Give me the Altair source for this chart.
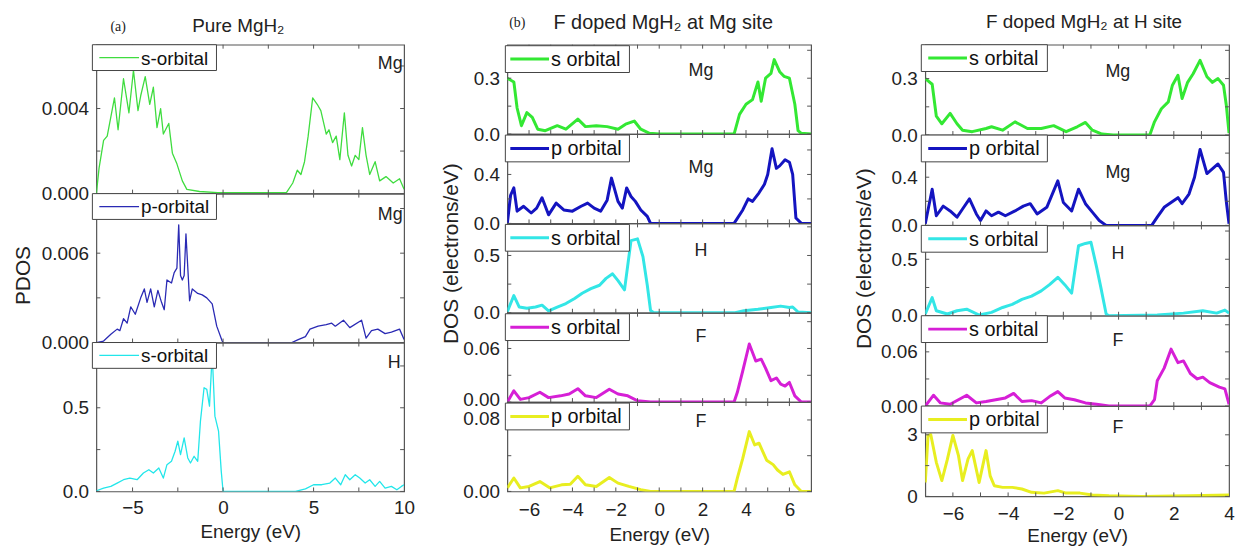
import altair as alt
import pandas as pd

FONT = "Liberation Sans"
SERIF = "Liberation Serif"

# ---------------- data: (Energy eV, DOS) ----------------
# Column (a): Pure MgH2
PURE_MG_S = [(-7, 0), (-6.85, 0.0012), (-6.6, 0.0025), (-6.4, 0.0027), (-6.0, 0.0045), (-5.8, 0.003),
             (-5.5, 0.0054), (-5.2, 0.0038), (-4.95, 0.0058), (-4.7, 0.0039), (-4.55, 0.0046),
             (-4.3, 0.0055), (-4.05, 0.0042), (-3.85, 0.005), (-3.65, 0.0031), (-3.45, 0.004),
             (-3.3, 0.0028), (-3.0, 0.0033), (-2.8, 0.0019), (-2.55, 0.0014), (-2.25, 0.0006),
             (-2.0, 0.0002), (-1.3, 0.0001), (-0.3, 0.00005), (3.5, 0.00005), (3.85, 0.0005),
             (4.1, 0.0011), (4.3, 0.0009), (4.5, 0.0015), (4.7, 0.0027), (4.95, 0.0045),
             (5.2, 0.0042), (5.4, 0.0039), (5.7, 0.0028), (5.85, 0.003), (6.05, 0.0024),
             (6.25, 0.0027), (6.45, 0.0016), (6.7, 0.0038), (6.9, 0.0018), (7.1, 0.0013),
             (7.3, 0.0018), (7.5, 0.0016), (7.7, 0.0031), (7.9, 0.0018), (8.1, 0.0009),
             (8.4, 0.0015), (8.65, 0.0006), (9.0, 0.0008), (9.4, 0.0005), (9.75, 0.0007), (10, 0.0002)]
PURE_MG_P = [(-7, 0), (-6.6, 0.0001), (-6.2, 0.00055), (-5.85, 0.0009), (-5.7, 0.0008), (-5.5, 0.0016),
             (-5.3, 0.0013), (-5.1, 0.0024), (-4.85, 0.0019), (-4.55, 0.003), (-4.35, 0.0036),
             (-4.2, 0.0027), (-4.0, 0.0036), (-3.8, 0.0024), (-3.6, 0.0035), (-3.4, 0.0027),
             (-3.25, 0.0022), (-3.1, 0.0042), (-2.85, 0.004), (-2.7, 0.0047), (-2.55, 0.005),
             (-2.45, 0.0079), (-2.35, 0.0045), (-2.25, 0.0042), (-2.15, 0.0045), (-2.05, 0.0073),
             (-1.85, 0.0028), (-1.7, 0.0036), (-1.4, 0.0033), (-1.15, 0.0032), (-0.9, 0.003),
             (-0.6, 0.0026), (-0.35, 0.0011), (-0.05, 0.0001), (0, 0), (3.8, 0), (4.15, 0.0002),
             (4.55, 0.0004), (4.8, 0.0009), (5.25, 0.0011), (5.7, 0.0012), (6.0, 0.0013),
             (6.2, 0.0011), (6.65, 0.0015), (7.0, 0.001), (7.65, 0.0015), (7.9, 0.0003),
             (8.2, 0.0008), (8.55, 0.0009), (8.95, 0.0006), (9.3, 0.0007), (9.75, 0.0009), (10, 0.0002)]
PURE_H_S = [(-7, 0.004), (-6.6, 0.02), (-6.2, 0.03), (-5.85, 0.05), (-5.5, 0.07), (-5.15, 0.08),
            (-4.75, 0.07), (-4.4, 0.11), (-4.1, 0.13), (-3.85, 0.11), (-3.55, 0.14), (-3.3, 0.08),
            (-3.1, 0.16), (-2.85, 0.18), (-2.65, 0.24), (-2.5, 0.3), (-2.35, 0.22), (-2.15, 0.32),
            (-1.95, 0.2), (-1.8, 0.17), (-1.6, 0.21), (-1.4, 0.18), (-1.25, 0.42), (-1.05, 0.62),
            (-0.9, 0.61), (-0.75, 0.51), (-0.6, 0.82), (-0.45, 0.45), (-0.25, 0.36), (-0.1, 0.12),
            (0, 0), (4.0, 0), (4.55, 0.015), (5.0, 0.04), (5.45, 0.04), (5.9, 0.05), (6.2, 0.08),
            (6.5, 0.04), (6.75, 0.1), (7.0, 0.07), (7.3, 0.1), (7.55, 0.08), (7.85, 0.05),
            (8.1, 0.07), (8.4, 0.03), (8.65, 0.06), (8.95, 0.02), (9.3, 0.03), (9.6, 0.01),
            (9.85, 0.03), (10, 0.04)]

# Column (b): F doped MgH2 at Mg site
MGS_MG_S = [(-7, 0.3), (-6.7, 0.28), (-6.55, 0.14), (-6.35, 0.045), (-6.1, 0.115), (-5.85, 0.09),
            (-5.6, 0.026), (-5.25, 0.018), (-4.7, 0.045), (-4.3, 0.026), (-3.75, 0.08), (-3.4, 0.04),
            (-2.9, 0.045), (-2.4, 0.04), (-1.9, 0.026), (-1.55, 0.053), (-1.15, 0.07), (-0.85, 0.026),
            (-0.45, 0.004), (0, 0), (3.45, 0), (3.7, 0.106), (4.0, 0.16), (4.3, 0.185), (4.55, 0.28),
            (4.7, 0.176), (4.9, 0.3), (5.15, 0.326), (5.3, 0.4), (5.55, 0.335), (5.75, 0.31),
            (6.0, 0.3), (6.25, 0.16), (6.4, 0.018), (6.55, 0.004), (7, 0)]
MGS_MG_P = [(-7, 0), (-6.85, 0.23), (-6.7, 0.29), (-6.55, 0.1), (-6.25, 0.14), (-5.9, 0.085),
            (-5.65, 0.125), (-5.4, 0.21), (-5.1, 0.07), (-4.75, 0.166), (-4.4, 0.11), (-4.0, 0.1),
            (-3.6, 0.14), (-3.3, 0.166), (-3.0, 0.125), (-2.7, 0.1), (-2.4, 0.19), (-2.2, 0.37),
            (-1.9, 0.18), (-1.7, 0.125), (-1.5, 0.29), (-1.3, 0.22), (-1.1, 0.18), (-0.85, 0.11),
            (-0.55, 0.057), (-0.4, 0), (3.45, 0), (3.85, 0.11), (4.1, 0.2), (4.3, 0.18), (4.6, 0.25),
            (4.85, 0.32), (5.0, 0.4), (5.2, 0.61), (5.4, 0.45), (5.55, 0.47), (5.8, 0.52),
            (6.0, 0.5), (6.15, 0.4), (6.3, 0.044), (6.55, 0), (7, 0)]
MGS_H_S = [(-7, 0.01), (-6.7, 0.15), (-6.45, 0.05), (-6.1, 0.04), (-5.7, 0.05), (-5.4, 0.066),
           (-5.1, 0.017), (-4.7, 0.05), (-4.3, 0.08), (-3.9, 0.125), (-3.55, 0.17), (-3.15, 0.21),
           (-2.75, 0.24), (-2.45, 0.3), (-2.15, 0.34), (-1.9, 0.28), (-1.6, 0.2), (-1.3, 0.63),
           (-1.0, 0.645), (-0.75, 0.49), (-0.55, 0.24), (-0.4, 0.02), (-0.25, 0), (3.5, 0),
           (3.9, 0.017), (4.55, 0.03), (5.15, 0.046), (5.6, 0.058), (6.0, 0.046), (6.15, 0.05),
           (6.4, 0.006), (7, 0)]
MGS_F_S = [(-7, 0), (-6.7, 0.0126), (-6.4, 0.003), (-6.0, 0.005), (-5.5, 0.011), (-5.1, 0.005),
           (-4.55, 0.007), (-4.15, 0.009), (-3.75, 0.015), (-3.4, 0.007), (-2.9, 0.005),
           (-2.3, 0.0144), (-1.9, 0.009), (-1.45, 0.007), (-1.0, 0.0015), (-0.4, 0), (3.45, 0),
           (3.6, 0.011), (3.85, 0.035), (4.15, 0.065), (4.45, 0.046), (4.7, 0.048), (4.9, 0.038),
           (5.15, 0.024), (5.4, 0.027), (5.6, 0.02), (5.8, 0.018), (6.0, 0.022), (6.25, 0.007),
           (6.55, 0), (7, 0)]
MGS_F_P = [(-7, 0.004), (-6.7, 0.015), (-6.4, 0.004), (-6.0, 0.0056), (-5.5, 0.011), (-5.05, 0.004),
           (-4.5, 0.0074), (-4.1, 0.008), (-3.75, 0.017), (-3.4, 0.0074), (-2.9, 0.0056),
           (-2.3, 0.0156), (-1.9, 0.0093), (-1.4, 0.0056), (-0.85, 0.002), (-0.4, 0), (3.45, 0),
           (3.6, 0.015), (3.85, 0.037), (4.15, 0.067), (4.4, 0.052), (4.6, 0.054), (4.95, 0.035),
           (5.25, 0.03), (5.45, 0.024), (5.7, 0.019), (6.0, 0.022), (6.25, 0.0074), (6.55, 0), (7, 0)]

# Column (c): F doped MgH2 at H site
HS_MG_S = [(-7, 0.3), (-6.75, 0.27), (-6.6, 0.1), (-6.4, 0.06), (-6.1, 0.115), (-5.85, 0.06),
           (-5.65, 0.026), (-5.3, 0.018), (-4.8, 0.035), (-4.6, 0.044), (-4.2, 0.026), (-3.75, 0.07),
           (-3.3, 0.035), (-2.8, 0.035), (-2.35, 0.05), (-1.9, 0.018), (-1.5, 0.044), (-1.2, 0.067),
           (-0.95, 0.026), (-0.6, 0.005), (-0.2, 0), (1.13, 0), (1.3, 0.07), (1.55, 0.14),
           (1.8, 0.176), (1.95, 0.265), (2.15, 0.318), (2.3, 0.194), (2.5, 0.28), (2.7, 0.326),
           (2.95, 0.397), (3.2, 0.31), (3.4, 0.28), (3.6, 0.3), (3.8, 0.265), (3.9, 0.16), (4.0, 0.01)]
HS_MG_P = [(-7, 0.014), (-6.75, 0.3), (-6.6, 0.08), (-6.35, 0.16), (-6.1, 0.12), (-5.85, 0.068),
           (-5.65, 0.136), (-5.4, 0.22), (-5.15, 0.095), (-5.0, 0.04), (-4.8, 0.12), (-4.6, 0.08),
           (-4.35, 0.11), (-4.1, 0.08), (-3.75, 0.12), (-3.45, 0.16), (-3.2, 0.18), (-2.95, 0.095),
           (-2.6, 0.15), (-2.2, 0.37), (-2.0, 0.19), (-1.7, 0.12), (-1.45, 0.3), (-1.2, 0.18),
           (-0.95, 0.11), (-0.7, 0.04), (-0.45, 0), (1.2, 0), (1.4, 0.068), (1.65, 0.15),
           (1.9, 0.19), (2.15, 0.23), (2.3, 0.18), (2.55, 0.26), (2.75, 0.4), (2.95, 0.63),
           (3.2, 0.43), (3.6, 0.51), (3.8, 0.44), (3.9, 0.2), (4.0, 0.014)]
HS_H_S = [(-7, 0.015), (-6.75, 0.16), (-6.6, 0.044), (-6.2, 0.015), (-5.85, 0.044), (-5.5, 0.058),
          (-5.05, 0.006), (-4.6, 0.03), (-4.2, 0.073), (-3.85, 0.1), (-3.5, 0.145), (-3.15, 0.174),
          (-2.8, 0.22), (-2.5, 0.275), (-2.2, 0.34), (-1.95, 0.275), (-1.7, 0.2), (-1.45, 0.62),
          (-1.2, 0.64), (-1.0, 0.65), (-0.8, 0.435), (-0.65, 0.26), (-0.45, 0.015), (-0.35, 0),
          (1.4, 0.006), (2.35, 0.023), (3.05, 0.044), (3.55, 0.023), (3.85, 0.05), (4.0, 0.023)]
HS_F_S = [(-7, 0), (-6.7, 0.012), (-6.45, 0.0035), (-6.1, 0.002), (-5.8, 0.007), (-5.5, 0.012),
          (-5.15, 0.0035), (-4.8, 0.005), (-4.45, 0.007), (-4.1, 0.009), (-3.8, 0.014), (-3.5, 0.005),
          (-3.15, 0.006), (-2.8, 0.0035), (-2.5, 0.0105), (-2.2, 0.016), (-1.95, 0.009), (-1.6, 0.007),
          (-1.2, 0.0035), (-0.8, 0.002), (-0.35, 0), (1.13, 0), (1.3, 0.007), (1.4, 0.028),
          (1.65, 0.042), (1.9, 0.063), (2.15, 0.048), (2.35, 0.05), (2.6, 0.036), (2.85, 0.03),
          (3.05, 0.032), (3.3, 0.026), (3.65, 0.021), (3.85, 0.019), (4.0, 0.002)]
HS_F_P = [(-7, 0.68), (-6.9, 2.97), (-6.8, 3.0), (-6.6, 1.66), (-6.4, 0.77), (-6.2, 1.8), (-6.0, 2.97),
          (-5.8, 2.0), (-5.65, 0.77), (-5.45, 1.83), (-5.3, 2.23), (-5.05, 0.68), (-4.8, 2.23),
          (-4.65, 1.0), (-4.5, 0.52), (-4.2, 0.44), (-3.85, 0.44), (-3.5, 0.36), (-3.15, 0.2),
          (-2.7, 0.16), (-2.2, 0.28), (-1.9, 0.16), (-1.4, 0.16), (-0.95, 0.065), (-0.35, 0.03),
          (0.85, 0), (2.6, 0.03), (4.0, 0.065)]

# axis tick values
X_TICKS_A = [-5, -2.5, 0, 2.5, 5, 7.5]
X_LABELS_A = [-5, 0, 5, 10]
X_TICKS_B = [-6, -5, -4, -3, -2, -1, 0, 1, 2, 3, 4, 5, 6]
X_LABELS_B = [-6, -4, -2, 0, 2, 4, 6]
X_TICKS_C = [-6, -5, -4, -3, -2, -1, 0, 1, 2, 3]
X_LABELS_C = [-6, -4, -2, 0, 2, 4]

GREEN_A, BLUE_A, CYAN_A = "#3fdc3f", "#2a2ab4", "#22e6ea"
GREEN, BLUE, CYAN, MAGENTA, YELLOW = "#33e833", "#1414c0", "#33e6e6", "#d61fd6", "#e8ee20"
FRAME = "#555555"
TICK = 4


def in_list_expr(vals):
    return " || ".join(f"datum.value == {v}" for v in vals)


def panel(data, color, sw, w, h, xdom, xticks, xlabels, ymax, yticks, ylabels, yfmt,
          legend, elem, elem_x, elem_y, bottom=False, ytitle=None, ytitle_x=0, ytitle_y=0,
          box=(-4, 121, 0, 26), seg=(3, 43), txt_x=45, lfs=19, heads=None, ylab_shift=None,
          xpad=(9, 6)):
    df = pd.DataFrame(data, columns=["E", "v"])
    xscale = alt.Scale(domain=xdom, nice=False, zero=False)
    yscale = alt.Scale(domain=[0, ymax], nice=False, zero=False)
    xkw = dict(values=sorted(set(xticks) | set(xlabels)), domain=False, grid=False, ticks=False,
               tickSize=0, labelFlush=False, labelFont=FONT, labelFontSize=19, labelColor="#222",
               labelPadding=xpad[0], titleFont=FONT, titleFontSize=19, titleFontWeight="normal",
               titleColor="#222", titlePadding=xpad[1])
    if bottom:
        xkw["labelExpr"] = f"({in_list_expr(xlabels)}) ? format(datum.value, 'd') : ''"
        xkw["title"] = "Energy (eV)"
    else:
        xkw["labels"] = False
        xkw["title"] = None
    ykw = dict(values=yticks, domain=False, grid=False, ticks=False, tickSize=0,
               labelFont=FONT, labelFontSize=19, labelColor="#222", labelPadding=8,
               labelExpr=f"({in_list_expr(ylabels)}) ? format(datum.value, '{yfmt}') : ''")
    if ylab_shift:
        val, off = ylab_shift
        ykw["labelOffset"] = {"condition": {"test": f"datum.value == {val}", "value": off}, "value": 0}
    if ytitle:
        ykw.update(title=ytitle, titleFont=FONT, titleFontSize=21, titleFontWeight="normal",
                   titleColor="#222", titleX=ytitle_x, titleY=ytitle_y, titleBaseline="middle",
                   titleAngle=270, titleLimit=600)
    else:
        ykw["title"] = None
    x = alt.X("E:Q", scale=xscale, axis=alt.Axis(**xkw))
    y = alt.Y("v:Q", scale=yscale, axis=alt.Axis(**ykw))
    one = pd.DataFrame({"k": [0]})
    xt = pd.DataFrame({"E": xticks})
    yt = pd.DataFrame({"v": yticks})

    line = alt.Chart(df).mark_line(color=color, strokeWidth=sw, clip=True,
                                   strokeJoin="round").encode(x=x, y=y)
    # inward ticks on all four sides, drawn from the tick value lists through the same scales
    tb = alt.Chart(xt).mark_rule(color=FRAME, strokeWidth=1).encode(
        x=x, y=alt.value(h), y2=alt.value(h - TICK))
    tt = alt.Chart(xt).mark_rule(color=FRAME, strokeWidth=1).encode(
        x=x, y=alt.value(0), y2=alt.value(TICK))
    tl = alt.Chart(yt).mark_rule(color=FRAME, strokeWidth=1).encode(
        y=y, x=alt.value(0), x2=alt.value(TICK))
    tr = alt.Chart(yt).mark_rule(color=FRAME, strokeWidth=1).encode(
        y=y, x=alt.value(w - TICK), x2=alt.value(w))

    rect = alt.Chart(one).mark_rect(fill="white", stroke="#444", strokeWidth=1).encode(
        x=alt.value(box[0]), x2=alt.value(box[1]), y=alt.value(box[2]), y2=alt.value(box[3]))
    ly = (box[2] + box[3]) / 2
    segm = alt.Chart(one).mark_rule(color=color, strokeWidth=sw).encode(
        x=alt.value(seg[0]), x2=alt.value(seg[1]), y=alt.value(ly))
    ltext = alt.Chart(one).mark_text(align="left", baseline="middle", font=FONT, fontSize=lfs,
                                     color="#111").encode(
        x=alt.value(txt_x), y=alt.value(ly + 1), text=alt.value(legend))
    etext = alt.Chart(one).mark_text(align="center", baseline="middle", font=FONT, fontSize=18,
                                     color="#222").encode(
        x=alt.value(elem_x), y=alt.value(elem_y), text=alt.value(elem))
    layers = [line, tb, tt, tl, tr, rect, segm, ltext, etext]
    if heads:
        # invisible spacer so every column reserves the same room above
        layers.append(alt.Chart(one).mark_rule(color="white", strokeWidth=1).encode(
            x=alt.value(0), x2=alt.value(1), y=alt.value(-33.5)))
        for (t, hx, hy, fnt, fs, al) in heads:
            layers.append(alt.Chart(one).mark_text(align=al, baseline="middle", font=fnt,
                                                   fontSize=fs, color="#222").encode(
                x=alt.value(hx), y=alt.value(hy), text=alt.value(t)))
    return alt.layer(*layers).properties(width=w, height=h)


# ---------- column (a) ----------
WA, HA = 310, 150
colA = alt.vconcat(
    panel(PURE_MG_S, GREEN_A, 1.3, WA, HA, [-7, 10], X_TICKS_A, X_LABELS_A, 0.007,
          [0, 0.002, 0.004, 0.006], [0, 0.004], ".3f", "s-orbital", "Mg", 296, 19,
          heads=[("(a)", 22, -18, SERIF, 14, "center"), ("Pure MgH\u2082", 143, -18.5, FONT, 19, "center")]),
    panel(PURE_MG_P, BLUE_A, 1.3, WA, HA, [-7, 10], X_TICKS_A, X_LABELS_A, 0.01,
          [0, 0.003, 0.006, 0.009], [0, 0.006], ".3f", "p-orbital", "Mg", 296, 22,
          ytitle="PDOS", ytitle_x=-73, ytitle_y=82),
    panel(PURE_H_S, CYAN_A, 1.3, WA, HA, [-7, 10], X_TICKS_A, X_LABELS_A, 0.89,
          [0, 0.25, 0.5, 0.75], [0, 0.5], ".1f", "s-orbital", "H", 300, 21, bottom=True,
          xpad=(7, 5)),
    spacing=0, bounds="flush")

# ---------- column (b) ----------
WB, HB = 306, 90
bkw = dict(box=(-2, 123, 1, 28), seg=(3, 42), txt_x=44, lfs=20)
colB = alt.vconcat(
    panel(MGS_MG_S, GREEN, 3, WB, HB, [-7, 7], X_TICKS_B, X_LABELS_B, 0.48,
          [0, 0.15, 0.3, 0.45], [0, 0.3], ".1f", "s orbital", "Mg", 195, 27,
          heads=[("(b)", 10, -21.5, SERIF, 14, "center"),
                 ("F doped MgH\u2082 at Mg site", 157, -21.5, FONT, 20, "center")], **bkw),
    panel(MGS_MG_P, BLUE, 3, WB, HB, [-7, 7], X_TICKS_B, X_LABELS_B, 0.73,
          [0, 0.2, 0.4, 0.6], [0, 0.4], ".1f", "p orbital", "Mg", 195, 34, **bkw),
    panel(MGS_H_S, CYAN, 3, WB, HB, [-7, 7], X_TICKS_B, X_LABELS_B, 0.78,
          [0, 0.25, 0.5, 0.75], [0, 0.5], ".1f", "s orbital", "H", 195, 28,
          ytitle="DOS (electrons/eV)", ytitle_x=-56, ytitle_y=30, **bkw),
    panel(MGS_F_S, MAGENTA, 3, WB, HB, [-7, 7], X_TICKS_B, X_LABELS_B, 0.1,
          [0, 0.03, 0.06, 0.09], [0, 0.06], ".2f", "s orbital", "F", 195, 24,
          ylab_shift=(0, -3), **bkw),
    panel(MGS_F_P, YELLOW, 3, WB, HB, [-7, 7], X_TICKS_B, X_LABELS_B, 0.1,
          [0, 0.04, 0.08], [0, 0.08], ".2f", "p orbital", "F", 195, 20, bottom=True,
          ylab_shift=(0.08, -1), xpad=(9, 6), **bkw),
    spacing=0, bounds="flush")

# ---------- column (c) ----------
WC, HC = 306, 91
ckw = dict(box=(-4, 123, 0, 27), seg=(3, 42), txt_x=44, lfs=20)
colC = alt.vconcat(
    panel(HS_MG_S, GREEN, 3, WC, HC, [-7, 4], X_TICKS_C, X_LABELS_C, 0.48,
          [0, 0.15, 0.3, 0.45], [0, 0.3], ".1f", "s orbital", "Mg", 194, 28,
          heads=[("F doped MgH\u2082 at H site", 160, -23, FONT, 19, "center")], **ckw),
    panel(HS_MG_P, BLUE, 3, WC, HC, [-7, 4], X_TICKS_C, X_LABELS_C, 0.75,
          [0, 0.2, 0.4, 0.6], [0, 0.4], ".1f", "p orbital", "Mg", 194, 38, **ckw),
    panel(HS_H_S, CYAN, 3, WC, HC, [-7, 4], X_TICKS_C, X_LABELS_C, 0.8,
          [0, 0.25, 0.5, 0.75], [0, 0.5], ".1f", "s orbital", "H", 194, 29,
          ytitle="DOS (electrons/eV)", ytitle_x=-61, ytitle_y=33, **ckw),
    panel(HS_F_S, MAGENTA, 3, WC, HC, [-7, 4], X_TICKS_C, X_LABELS_C, 0.1,
          [0, 0.03, 0.06, 0.09], [0, 0.06], ".2f", "s orbital", "F", 194, 26, **ckw),
    panel(HS_F_P, YELLOW, 3, WC, HC, [-7, 4], X_TICKS_C, X_LABELS_C, 4.4,
          [0, 1.5, 3], [0, 3], "d", "p orbital", "F", 194, 22, bottom=True,
          xpad=(8, 3), **ckw),
    spacing=0, bounds="flush")

chart = alt.hconcat(
    alt.hconcat(colA, colB, spacing=24),
    colC, spacing=40,
).properties(
    padding={"left": 4, "top": 0, "right": 0, "bottom": 0},
    background="white",
).configure_view(stroke=FRAME, strokeWidth=1.2)

chart.save("out.html", embed_options={"renderer": "svg", "actions": False})
